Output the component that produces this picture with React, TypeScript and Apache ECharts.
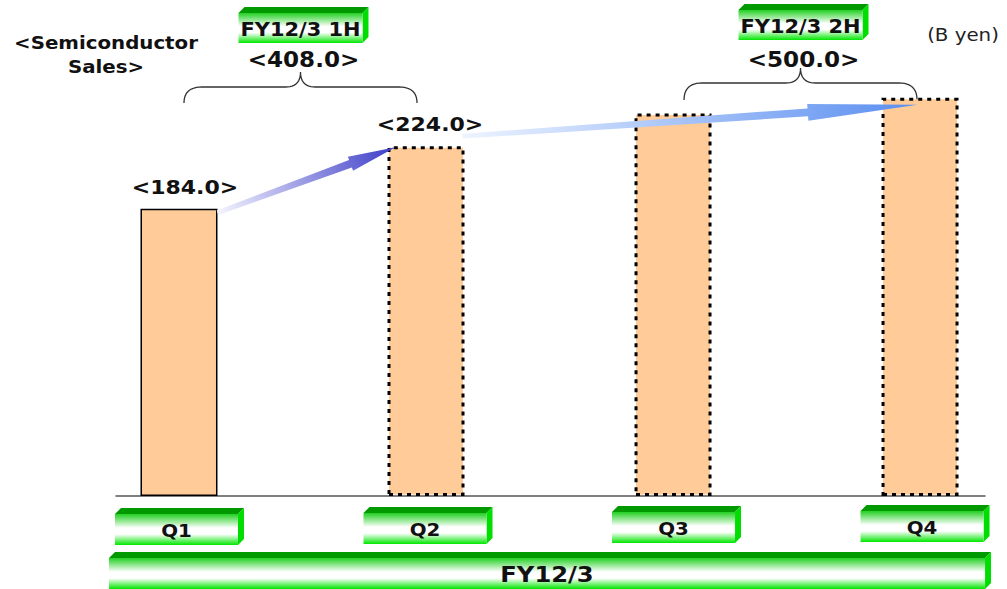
import React, { useEffect, useRef } from 'react';
import * as echarts from 'echarts';

const quarters = ['Q1', 'Q2', 'Q3', 'Q4'];
const sales = [184.0, 224.0, 245.0, 255.0];
const showValue = [true, true, false, false];
const halves = ['FY12/3 1H', 'FY12/3 2H'];
const halfTotals = [408.0, 500.0];
const fiscalYear = 'FY12/3';
const titleLines = ['<Semiconductor', 'Sales>'];
const unitLabel = '(B yen)';

const FONT = '"DejaVu Sans", Verdana, sans-serif';
const HALF = 38.5;
const SX = 1.1;

function quad(p0: number[], c: number[], p1: number[], n = 12) {
  const pts: number[][] = [];
  for (let i = 0; i <= n; i++) {
    const t = i / n;
    const a = (1 - t) * (1 - t), b = 2 * (1 - t) * t, d = t * t;
    pts.push([a * p0[0] + b * c[0] + d * p1[0], a * p0[1] + b * c[1] + d * p1[1]]);
  }
  return pts;
}

function brace(xl: number, xr: number, yb: number, ym: number, yt: number) {
  const xc = (xl + xr) / 2;
  const r1 = 18, r2 = 15;
  return [
    ...quad([xl, yb], [xl, ym], [xl + r1, ym]),
    ...quad([xc - r2, ym], [xc, ym], [xc, yt]),
    ...quad([xc, yt], [xc, ym], [xc + r2, ym]),
    ...quad([xr - r1, ym], [xr, ym], [xr, yb]),
  ];
}

function arrow(t: number[], h: number[], sw: number, hw: number, hl: number) {
  const dx = h[0] - t[0], dy = h[1] - t[1];
  const len = Math.hypot(dx, dy);
  const ux = dx / len, uy = dy / len;
  const nx = -uy, ny = ux;
  const bx = h[0] - ux * hl, by = h[1] - uy * hl;
  return [
    [t[0] + nx * sw * 0.3, t[1] + ny * sw * 0.3],
    [bx + nx * sw / 2, by + ny * sw / 2],
    [bx + nx * hw / 2, by + ny * hw / 2],
    [h[0], h[1]],
    [bx - nx * hw / 2, by - ny * hw / 2],
    [bx - nx * sw / 2, by - ny * sw / 2],
    [t[0] - nx * sw * 0.3, t[1] - ny * sw * 0.3],
  ];
}

function txt(x: number, y: number, text: string, fontSize: number, bold = true, extra: any = {}) {
  return {
    type: 'text', x, y, scaleX: SX, z: 20,
    style: {
      text, fill: '#111', fontFamily: FONT, fontWeight: bold ? 'bold' : 'normal', fontSize,
      textAlign: 'center', textVerticalAlign: 'middle', ...extra,
    },
  };
}

function greenBox(left: number, top: number, faceW: number, faceH: number, bevel: number, label: string, fontSize: number) {
  const fTop = top + bevel;
  const right = left + faceW;
  return [
    { type: 'polygon', shape: { points: [[left, fTop], [left + bevel, top], [right + bevel, top], [right, fTop]] }, style: { fill: '#009a00' } },
    { type: 'polygon', shape: { points: [[right, fTop], [right + bevel, top], [right + bevel, top + faceH], [right, fTop + faceH]] }, style: { fill: '#00dd00' } },
    {
      type: 'rect', shape: { x: left, y: fTop, width: faceW, height: faceH },
      style: {
        fill: new echarts.graphic.LinearGradient(0, 0, 0, 1, [
          { offset: 0, color: '#22d022' },
          { offset: 0.45, color: '#ffffff' },
          { offset: 0.65, color: '#ffffff' },
          { offset: 1, color: '#00e600' },
        ]),
      },
    },
    txt(left + faceW / 2, fTop + faceH / 2 + 1, label, fontSize),
  ];
}

export default function App() {
  const ref = useRef<HTMLDivElement>(null);
  useEffect(() => {
    document.body.style.margin = '0';
    const chart = echarts.init(ref.current!, null, { renderer: 'svg' });
    chart.setOption({
      animation: false,
      backgroundColor: '#ffffff',
      grid: { left: 116, right: 22, top: 90, bottom: 93 },
      xAxis: {
        type: 'value', min: -0.255, max: 3.263,
        axisLine: { show: true, onZero: false, lineStyle: { color: '#555', width: 1.5 } },
        axisTick: { show: false }, axisLabel: { show: false }, splitLine: { show: false },
      },
      yAxis: {
        type: 'value', min: 0, max: 260,
        axisLine: { show: false }, axisTick: { show: false }, axisLabel: { show: false }, splitLine: { show: false },
      },
      series: [
        {
          type: 'bar',
          barWidth: HALF * 2,
          data: sales.map((v, i) => ({
            value: [i, v],
            name: quarters[i],
            itemStyle: i === 0
              ? { color: '#FFCC99', borderColor: '#000', borderWidth: 1.5 }
              : { color: '#FFCC99', borderColor: '#000', borderWidth: 3, borderType: [4, 5] },
          })),
        },
      ],
    });

    const px = (x: number, y: number) => chart.convertToPixel({ xAxisIndex: 0, yAxisIndex: 0 }, [x, y]) as number[];
    const c = sales.map((v, i) => px(i, v));
    const base = px(0, 0)[1];
    const els: any[] = [];

    // title & unit
    els.push(txt(106, 54, titleLines.join('\n'), 18, true, { lineHeight: 24 }));
    els.push(txt(963, 34, unitLabel, 18, false, { fill: '#222' }));

    // value labels above bars
    c.forEach((p, i) => {
      if (!showValue[i]) return;
      els.push(txt(p[0] + (i === 0 ? 6 : 4), p[1] - 22, `<${sales[i].toFixed(1)}>`, 20));
    });

    // arrows
    const a1t = [c[0][0] + HALF, c[0][1] + 4];
    const a1h = [c[1][0] - HALF + 8, c[1][1] + 1];
    els.push({
      type: 'polygon', z: 10, shape: { points: arrow(a1t, a1h, 8, 15, 48) },
      style: {
        fill: new echarts.graphic.LinearGradient(a1t[0], a1t[1], a1h[0], a1h[1], [
          { offset: 0, color: '#f4f4ff' }, { offset: 1, color: '#3c3cc8' },
        ], true),
      },
    });
    const a2t = [c[1][0] + HALF - 2, c[1][1] - 10];
    const a2h = [c[3][0] - HALF + 36, c[3][1] + 7];
    els.push({
      type: 'polygon', z: 10, shape: { points: arrow(a2t, a2h, 8, 17, 110) },
      style: {
        fill: new echarts.graphic.LinearGradient(a2t[0], a2t[1], a2h[0], a2h[1], [
          { offset: 0, color: '#eef4ff' }, { offset: 1, color: '#5a8ef0' },
        ], true),
      },
    });

    // half-year braces, totals and boxes
    const pairs = [[0, 1], [2, 3]];
    const braceY = [[103, 87, 72], [100, 83, 68]];
    const shift = [0, 6];
    pairs.forEach((pr, k) => {
      const xl = c[pr[0]][0] + 5 + shift[k], xr = c[pr[1]][0] - 9 + shift[k];
      const [yb, ym, yt] = braceY[k];
      els.push({ type: 'polyline', shape: { points: brace(xl, xr, yb, ym, yt) }, style: { stroke: '#333', lineWidth: 1.3, fill: null } });
      const mid = (c[pr[0]][0] + c[pr[1]][0]) / 2 + shift[k];
      els.push(txt(mid + 1, 60, `<${halfTotals[k].toFixed(1)}>`, 21));
      els.push(...greenBox(mid - 64, 7 - k * 3, 124, 30, 6, halves[k], 19));
    });

    // quarter boxes
    c.forEach((p, i) => {
      els.push(...greenBox(p[0] - 64 + i * 1.5, base + 12 - i, 123, 31, 6, quarters[i], 18));
    });

    // fiscal year bar
    els.push(...greenBox(c[0][0] - 70, base + 56, c[3][0] - c[0][0] + 135, 31, 6, fiscalYear, 22));

    chart.setOption({ graphic: { elements: els } });
    return () => chart.dispose();
  }, []);
  return <div ref={ref} style={{ position: 'absolute', left: 0, top: 0, width: 1007, height: 589 }} />;
}
